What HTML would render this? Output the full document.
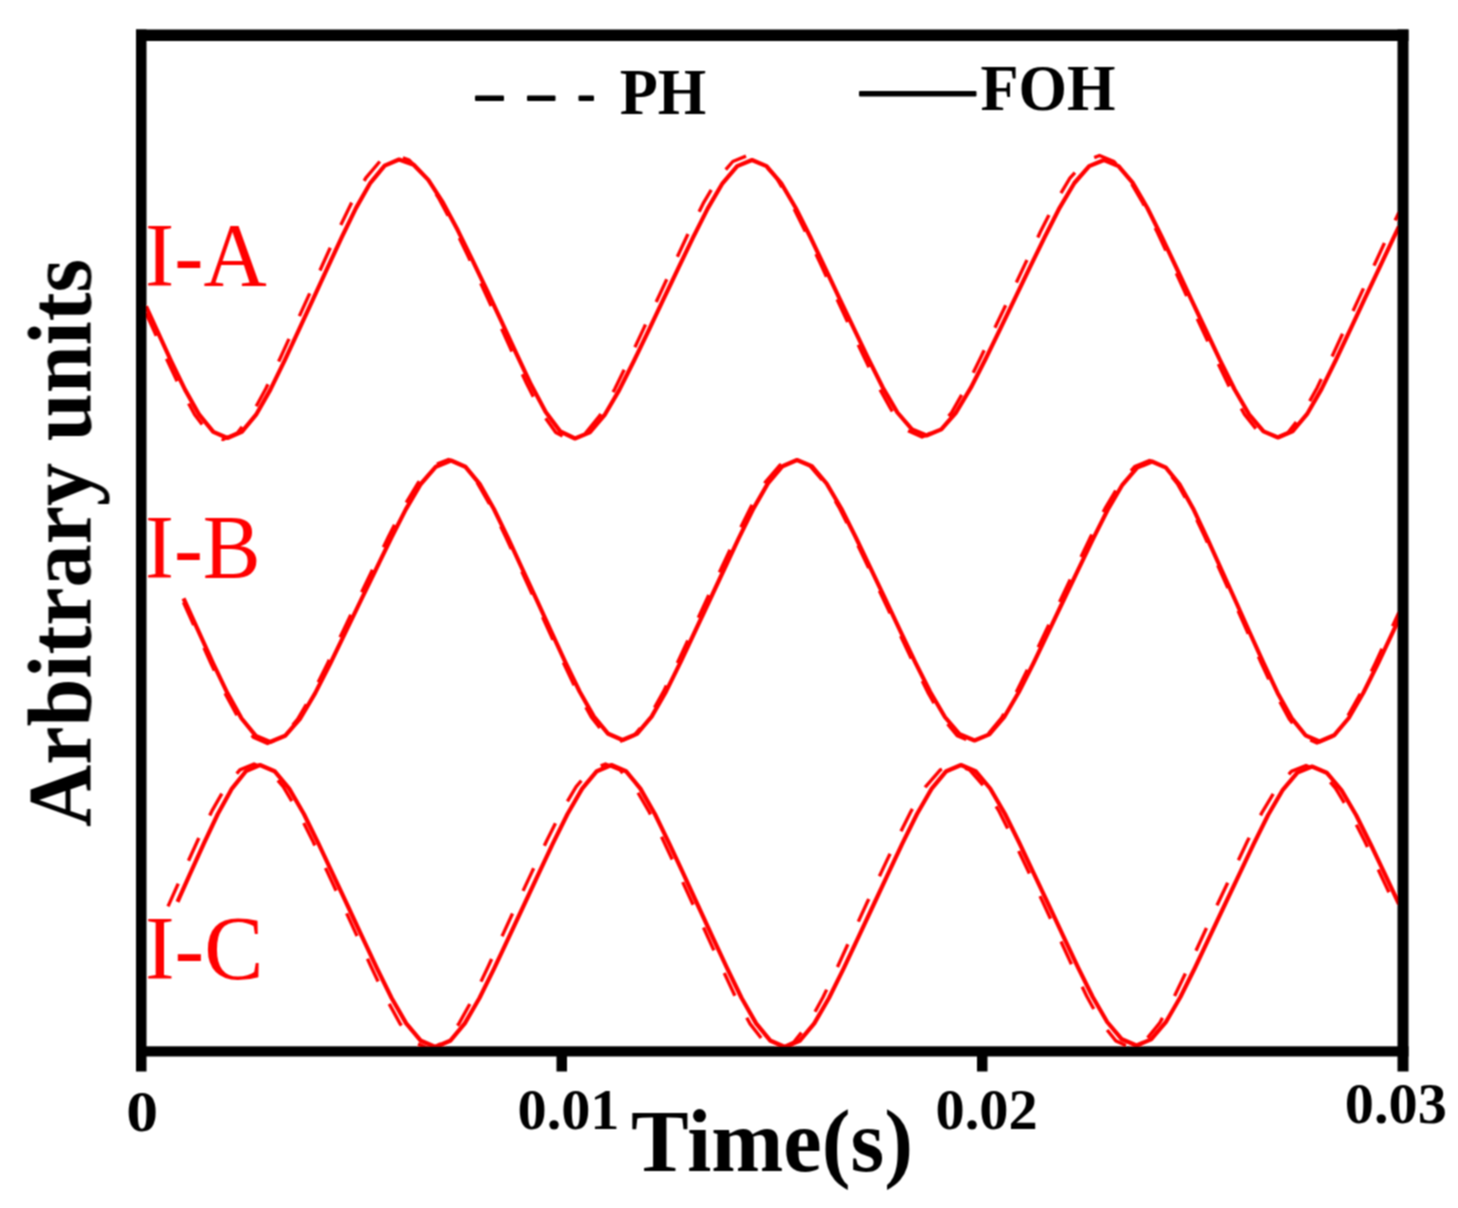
<!DOCTYPE html>
<html lang="en"><head><meta charset="utf-8"><title>Phase currents: PH vs FOH</title>
<style>html,body{margin:0;padding:0;background:#fff}body{width:1458px;height:1208px;overflow:hidden}svg{display:block}</style>
</head><body>
<svg width="1458" height="1208" viewBox="0 0 1458 1208">
<defs><filter id="soft" x="-2%" y="-2%" width="104%" height="104%"><feConvolveMatrix order="3" kernelMatrix="1 2 1 2 4 2 1 2 1" edgeMode="none"/></filter></defs>
<rect width="100%" height="100%" fill="#fff"/>
<g filter="url(#soft)">
<g fill="none" stroke="#ff0000" stroke-linejoin="round">
<path d="M146.0 313.1 L152.2 326.8 L166.3 358.2 L180.5 388.5 L194.7 414.8 L208.8 433.0 L223.0 439.5 L237.3 433.0 L251.6 414.8 L265.9 388.5 L280.2 358.2 L294.5 326.8 L308.8 295.4 L323.0 263.7 L337.3 232.3 L351.6 202.8 L365.9 177.9 L380.2 161.0 L394.5 155.0 L409.2 160.2 L423.8 175.1 L438.5 197.7 L453.2 225.3 L467.8 255.6 L482.5 287.0 L497.2 318.9 L511.8 351.2 L526.5 383.3 L541.2 412.1 L555.8 432.5 L570.5 440.0 L585.2 433.5 L600.0 415.3 L614.8 389.1 L629.5 358.8 L644.2 327.4 L659.0 296.0 L673.8 264.3 L688.5 232.9 L703.2 203.4 L718.0 178.4 L732.8 161.5 L747.5 155.5 L762.0 161.5 L776.6 178.2 L791.1 202.8 L805.7 232.1 L820.2 263.1 L834.8 294.5 L849.3 325.5 L863.8 356.6 L878.4 386.6 L892.9 412.6 L907.5 430.5 L922.0 437.0 L936.8 430.5 L951.6 412.6 L966.4 386.6 L981.2 356.6 L996.0 325.6 L1010.8 294.5 L1025.5 263.1 L1040.3 232.1 L1055.1 202.9 L1069.9 178.2 L1084.7 161.5 L1099.5 155.5 L1114.0 161.5 L1128.5 178.3 L1143.0 203.2 L1157.5 232.6 L1172.0 263.8 L1186.5 295.5 L1201.0 326.7 L1215.5 358.0 L1230.0 388.2 L1244.5 414.4 L1259.0 432.5 L1273.5 439.0 L1288.0 432.5 L1302.5 414.3 L1317.0 388.0 L1331.5 357.8 L1346.0 326.3 L1360.5 294.9 L1375.1 263.2 L1389.6 231.9 L1399.0 212.3" stroke-width="3.4" stroke-dasharray="25 25"/>
<path d="M183.5 602.3 L196.5 631.3 L210.7 662.8 L224.9 693.1 L239.1 719.2 L253.3 737.1 L267.5 743.5 L282.6 737.1 L297.7 719.2 L312.8 693.2 L327.8 662.9 L342.9 631.4 L358.0 599.8 L373.1 568.4 L388.2 537.3 L403.2 507.8 L418.3 482.7 L433.4 465.6 L448.5 459.5 L462.8 465.5 L477.1 482.5 L491.4 507.4 L505.7 536.7 L520.0 567.6 L534.2 598.7 L548.5 630.1 L562.8 661.4 L577.1 691.4 L591.4 717.3 L605.7 735.1 L620.0 741.5 L634.5 735.1 L649.1 717.3 L663.6 691.4 L678.2 661.3 L692.7 629.9 L707.2 598.5 L721.8 567.3 L736.3 536.4 L750.9 507.0 L765.4 482.1 L780.0 465.1 L794.5 459.0 L809.3 465.1 L824.1 482.1 L838.9 507.1 L853.7 536.5 L868.5 567.5 L883.2 598.8 L898.0 630.2 L912.8 661.7 L927.6 691.8 L942.4 717.8 L957.2 735.6 L972.0 742.0 L986.8 735.6 L1001.6 717.9 L1016.4 692.1 L1031.2 662.1 L1046.0 630.8 L1060.8 599.5 L1075.5 568.4 L1090.3 537.6 L1105.1 508.4 L1119.9 483.5 L1134.7 466.5 L1149.5 460.5 L1163.5 466.6 L1177.4 483.6 L1191.4 508.5 L1205.3 537.8 L1219.3 568.7 L1233.2 599.9 L1247.2 631.4 L1261.2 662.8 L1275.1 692.8 L1289.1 718.8 L1303.0 736.6 L1317.0 743.0 L1331.6 736.6 L1346.3 718.8 L1360.9 692.8 L1375.6 662.7 L1390.2 631.2 L1399.0 612.3" stroke-width="3.4" stroke-dasharray="25 25"/>
<path d="M168.0 906.4 L169.7 902.6 L183.7 871.3 L197.8 840.3 L211.8 811.2 L225.9 786.6 L239.9 769.9 L254.0 764.0 L268.6 769.9 L283.2 786.6 L297.9 811.3 L312.5 840.4 L327.1 871.4 L341.8 902.8 L356.4 934.6 L371.0 966.5 L385.6 997.2 L400.2 1023.9 L414.9 1042.4 L429.5 1049.0 L444.2 1042.4 L458.8 1023.9 L473.5 997.3 L488.2 966.5 L502.8 934.6 L517.5 902.8 L532.2 871.4 L546.8 840.5 L561.5 811.3 L576.2 786.6 L590.8 769.9 L605.5 764.0 L620.0 769.9 L634.4 786.6 L648.9 811.3 L663.3 840.4 L677.8 871.4 L692.2 902.7 L706.7 934.5 L721.2 966.5 L735.6 997.2 L750.1 1023.9 L764.5 1042.4 L779.0 1049.0 L793.7 1042.4 L808.3 1023.9 L823.0 997.3 L837.7 966.5 L852.3 934.6 L867.0 902.8 L881.7 871.4 L896.3 840.5 L911.0 811.3 L925.7 786.6 L940.3 769.9 L955.0 764.0 L969.6 769.9 L984.2 786.5 L998.9 811.0 L1013.5 840.0 L1028.1 870.8 L1042.8 902.0 L1057.4 933.7 L1072.0 965.4 L1086.6 996.0 L1101.2 1022.5 L1115.9 1040.9 L1130.5 1047.5 L1145.1 1040.9 L1159.8 1022.7 L1174.4 996.3 L1189.0 965.8 L1203.6 934.3 L1218.2 902.8 L1232.9 871.8 L1247.5 841.1 L1262.1 812.3 L1276.8 787.9 L1291.4 771.4 L1306.0 765.5 L1320.7 771.4 L1335.4 788.0 L1350.2 812.5 L1364.9 841.6 L1379.6 872.4 L1394.3 903.6 L1399.0 913.6" stroke-width="3.4" stroke-dasharray="25 25"/>
<path d="M146.0 306.4 L156.7 329.6 L170.8 360.3 L185.0 389.6 L199.2 414.7 L213.3 431.9 L227.5 438.0 L241.8 431.9 L256.1 414.7 L270.4 389.6 L284.7 360.3 L299.0 329.6 L313.2 298.8 L327.5 267.9 L341.8 237.2 L356.1 207.9 L370.4 182.8 L384.7 165.6 L399.0 159.5 L413.7 164.8 L428.3 179.9 L443.0 202.7 L457.7 230.1 L472.3 259.9 L487.0 290.5 L501.7 321.8 L516.3 353.5 L531.0 384.6 L545.7 412.1 L560.3 431.5 L575.0 438.5 L589.8 432.4 L604.5 415.2 L619.2 390.1 L634.0 360.8 L648.8 330.1 L663.5 299.2 L678.2 268.4 L693.0 237.7 L707.8 208.4 L722.5 183.3 L737.2 166.1 L752.0 160.0 L766.5 166.1 L781.1 183.0 L795.6 207.8 L810.2 236.8 L824.7 267.2 L839.2 297.8 L853.8 328.3 L868.3 358.7 L882.9 387.7 L897.4 412.5 L912.0 429.4 L926.5 435.5 L941.3 429.4 L956.1 412.5 L970.9 387.7 L985.7 358.7 L1000.5 328.3 L1015.2 297.8 L1030.0 267.2 L1044.8 236.8 L1059.6 207.8 L1074.4 183.0 L1089.2 166.1 L1104.0 160.0 L1118.5 166.1 L1133.0 183.2 L1147.5 208.2 L1162.0 237.4 L1176.5 268.0 L1191.0 298.8 L1205.5 329.5 L1220.0 360.1 L1234.5 389.3 L1249.0 414.3 L1263.5 431.4 L1278.0 437.5 L1292.5 431.4 L1307.0 414.2 L1321.5 389.1 L1336.0 359.8 L1350.5 329.1 L1365.0 298.2 L1379.6 267.4 L1394.1 236.7 L1399.0 226.4" stroke-width="4.2"/>
<path d="M183.5 598.3 L184.8 601.2 L199.0 632.4 L213.2 663.5 L227.4 693.1 L241.6 718.5 L255.8 735.8 L270.0 742.0 L285.1 735.8 L300.2 718.5 L315.2 693.1 L330.3 663.5 L345.4 632.4 L360.5 601.2 L375.6 570.1 L390.7 539.0 L405.8 509.4 L420.8 484.0 L435.9 466.7 L451.0 460.5 L465.3 466.7 L479.6 483.9 L493.9 509.0 L508.2 538.4 L522.5 569.3 L536.8 600.2 L551.0 631.2 L565.3 662.1 L579.6 691.5 L593.9 716.6 L608.2 733.8 L622.5 740.0 L637.0 733.8 L651.6 716.6 L666.1 691.4 L680.7 661.9 L695.2 631.0 L709.8 600.0 L724.3 569.0 L738.8 538.1 L753.4 508.6 L767.9 483.4 L782.5 466.2 L797.0 460.0 L811.8 466.2 L826.6 483.5 L841.4 508.7 L856.2 538.2 L871.0 569.2 L885.8 600.2 L900.5 631.3 L915.3 662.3 L930.1 691.8 L944.9 717.0 L959.7 734.3 L974.5 740.5 L989.3 734.4 L1004.1 717.2 L1018.9 692.0 L1033.7 662.7 L1048.5 631.9 L1063.2 601.0 L1078.0 570.1 L1092.8 539.3 L1107.6 510.0 L1122.4 484.8 L1137.2 467.6 L1152.0 461.5 L1166.0 467.7 L1179.9 484.9 L1193.9 510.1 L1207.8 539.6 L1221.8 570.5 L1235.8 601.5 L1249.7 632.5 L1263.7 663.4 L1277.6 692.9 L1291.6 718.1 L1305.5 735.3 L1319.5 741.5 L1334.1 735.3 L1348.8 718.0 L1363.4 692.8 L1378.1 663.3 L1392.7 632.3 L1399.0 619.0" stroke-width="4.2"/>
<path d="M177.5 901.9 L189.7 874.7 L203.8 843.6 L217.8 814.0 L231.9 788.6 L245.9 771.2 L260.0 765.0 L274.6 771.2 L289.2 788.6 L303.9 814.0 L318.5 843.6 L333.1 874.7 L347.8 906.0 L362.4 937.3 L377.0 968.4 L391.6 998.0 L406.2 1023.4 L420.9 1040.8 L435.5 1047.0 L450.2 1040.8 L464.8 1023.4 L479.5 998.0 L494.2 968.4 L508.8 937.3 L523.5 906.0 L538.2 874.7 L552.8 843.6 L567.5 814.0 L582.2 788.6 L596.8 771.2 L611.5 765.0 L626.0 771.2 L640.4 788.6 L654.9 814.0 L669.3 843.6 L683.8 874.7 L698.2 906.0 L712.7 937.3 L727.2 968.4 L741.6 998.0 L756.1 1023.4 L770.5 1040.8 L785.0 1047.0 L799.7 1040.8 L814.3 1023.4 L829.0 998.0 L843.7 968.4 L858.3 937.3 L873.0 906.0 L887.7 874.7 L902.3 843.6 L917.0 814.0 L931.7 788.6 L946.3 771.2 L961.0 765.0 L975.6 771.2 L990.2 788.5 L1004.9 813.7 L1019.5 843.2 L1034.1 874.2 L1048.8 905.2 L1063.4 936.3 L1078.0 967.3 L1092.6 996.8 L1107.2 1022.0 L1121.9 1039.3 L1136.5 1045.5 L1151.1 1039.4 L1165.8 1022.2 L1180.4 997.0 L1195.0 967.7 L1209.6 936.9 L1224.2 906.0 L1238.9 875.1 L1253.5 844.3 L1268.1 815.0 L1282.8 789.8 L1297.4 772.6 L1312.0 766.5 L1326.7 772.7 L1341.4 790.0 L1356.2 815.2 L1370.9 844.7 L1385.6 875.7 L1399.0 904.0" stroke-width="4.2"/>
</g>
<g fill="#000">
<rect x="136" y="29.5" width="10.5" height="1042"/>
<rect x="1397.5" y="29.5" width="11" height="1042"/>
<rect x="136" y="29.5" width="1272.5" height="11.5"/>
<rect x="136" y="1046.3" width="1272.5" height="10.2"/>
<rect x="556.5" y="1050" width="10.5" height="21.5"/>
<rect x="977" y="1050" width="10.5" height="21.5"/>
<rect x="475" y="95.5" width="29" height="5.5" rx="1"/>
<rect x="527" y="95.5" width="28.5" height="5.5" rx="1"/>
<rect x="578.5" y="95.5" width="15.5" height="5.5" rx="1"/>
<rect x="859" y="91" width="117.5" height="5.5" rx="1"/>
</g>
<text x="619.8" y="113.5" font-size="65" fill="#000" font-family="'Liberation Serif', serif" font-weight="bold" textLength="86.5" lengthAdjust="spacingAndGlyphs">PH</text>
<text x="980.5" y="109.5" font-size="65" fill="#000" font-family="'Liberation Serif', serif" font-weight="bold" textLength="135" lengthAdjust="spacingAndGlyphs">FOH</text>
<text x="145" y="285.7" font-size="90" fill="#ff0000" font-family="'Liberation Serif', serif" textLength="121.7" lengthAdjust="spacingAndGlyphs">I-A</text>
<text x="145" y="578.2" font-size="90" fill="#ff0000" font-family="'Liberation Serif', serif" textLength="115.6" lengthAdjust="spacingAndGlyphs">I-B</text>
<text x="145" y="978.8" font-size="90" fill="#ff0000" font-family="'Liberation Serif', serif" textLength="118.5" lengthAdjust="spacingAndGlyphs">I-C</text>
<text x="126.3" y="1131" font-size="58" fill="#000" font-family="'Liberation Serif', serif" font-weight="bold" textLength="31.8" lengthAdjust="spacingAndGlyphs">0</text>
<text x="517.5" y="1129" font-size="58" fill="#000" font-family="'Liberation Serif', serif" font-weight="bold" textLength="102" lengthAdjust="spacingAndGlyphs">0.01</text>
<text x="935.5" y="1129" font-size="58" fill="#000" font-family="'Liberation Serif', serif" font-weight="bold" textLength="102.2" lengthAdjust="spacingAndGlyphs">0.02</text>
<text x="1344.8" y="1123" font-size="58" fill="#000" font-family="'Liberation Serif', serif" font-weight="bold" textLength="102" lengthAdjust="spacingAndGlyphs">0.03</text>
<text x="631" y="1171.3" font-size="88.5" fill="#000" font-family="'Liberation Serif', serif" font-weight="bold" textLength="282" lengthAdjust="spacingAndGlyphs">Time(s)</text>
<g transform="translate(90.5,827) rotate(-90)"><text x="0" y="0" font-size="90.5" fill="#000" font-family="'Liberation Serif', serif" font-weight="bold" textLength="568" lengthAdjust="spacingAndGlyphs">Arbitrary units</text></g>
</g>
</svg>
</body></html>
